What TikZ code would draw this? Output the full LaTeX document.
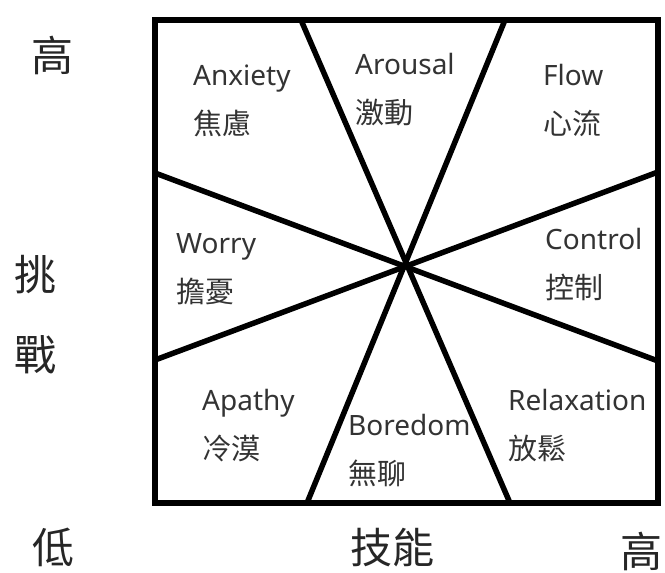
\documentclass[tikz,border=0pt]{standalone}
\usepackage{fontspec}
\setmainfont{Noto Sans}
\newfontfamily\cjk{Noto Sans CJK TC}
\begin{document}
\begin{tikzpicture}[x=1pt,y=-1pt,
  lat/.style={anchor=base west,inner sep=0pt,text=black!80,font=\fontsize{28}{30}\selectfont},
  han/.style={anchor=base west,inner sep=0pt,text=black!80,font=\cjk\fontsize{29}{30}\selectfont},
  axis/.style={anchor=center,inner sep=0pt,text=black!85,font=\cjk\fontsize{42}{44}\selectfont},
  edge/.style={line width=5.5pt},
  frame/.style={line width=6.5pt,line join=miter}]
\useasboundingbox (0,0) rectangle (665,573);
\coordinate (TL) at (155,20);
\coordinate (BR) at (658,503);
\begin{scope}
  \clip (TL) rectangle (BR);
  \draw[edge] (301,20) -- (510,503);
  \draw[edge] (505,20) -- (307,503);
  \draw[edge] (155,173) -- (658,361);
  \draw[edge] (155,360) -- (658,172);
\end{scope}
\draw[frame] (TL) rectangle (BR);
% region labels
\node[lat] (anx) at (193,85) {Anxiety};
\node[han] (anxc) at (193,134) {焦慮};
\node[lat] (aro) at (355,74) {Arousal};
\node[han] (aroc) at (355,123) {激動};
\node[lat] (flo) at (543,85) {Flow};
\node[han] (floc) at (543,134) {心流};
\node[lat] (wor) at (176,253) {Worry};
\node[han] (worc) at (176,302) {擔憂};
\node[lat] (con) at (545,249) {Control};
\node[han] (conc) at (545,298) {控制};
\node[lat] (apa) at (202,410) {Apathy};
\node[han] (apac) at (202,459) {冷漠};
\node[lat] (bor) at (348,435) {Boredom};
\node[han] (borc) at (348,484) {無聊};
\node[lat] (rel) at (508,410) {Relaxation};
\node[han] (relc) at (508,459) {放鬆};
% axis labels
\node[axis] (hi1) at (52,55) {高};
\node[axis] (ch1) at (35,275) {挑};
\node[axis] (ch2) at (35,355) {戰};
\node[axis] (lo) at (53,547) {低};
\node[axis] (sk) at (392,548) {技能};
\node[axis] (hi2) at (641,551) {高};
\end{tikzpicture}
\end{document}
